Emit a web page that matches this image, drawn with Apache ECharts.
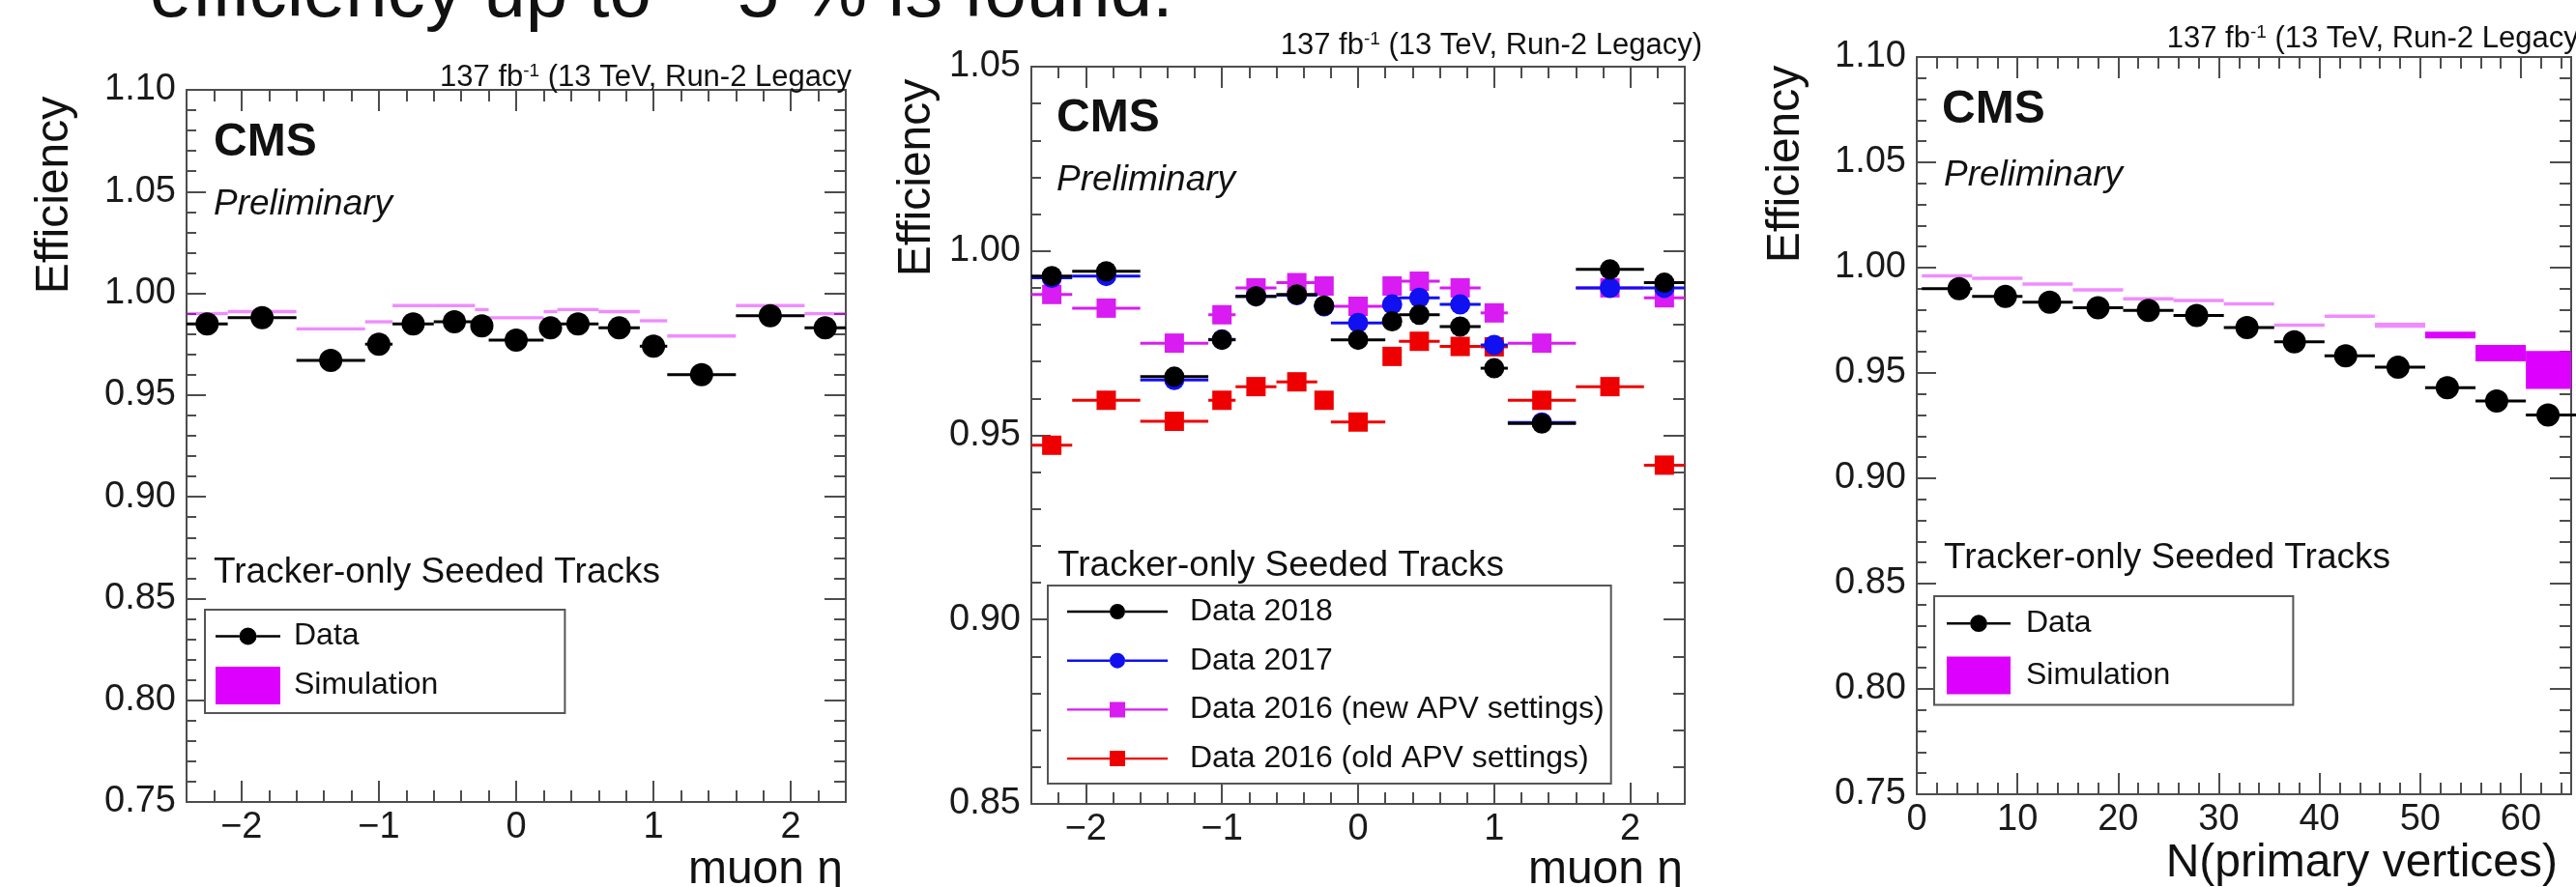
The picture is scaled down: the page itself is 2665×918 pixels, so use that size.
<!DOCTYPE html>
<html><head><meta charset="utf-8">
<script src="https://cdn.jsdelivr.net/npm/echarts@6/dist/echarts.min.js"></script>
<style>html,body{margin:0;padding:0;background:#fff}#c{width:2665px;height:918px}</style>
</head><body><div id="c"></div>
<script>
// ---------------- data ----------------
const etaEdges  = [-2.4,-2.1,-1.6,-1.1,-0.9,-0.6,-0.3,-0.2,0.2,0.3,0.6,0.9,1.1,1.6,2.1,2.4];
const etaPoints = [-2.25,-1.85,-1.35,-1.0,-0.75,-0.45,-0.25,0.0,0.25,0.45,0.75,1.0,1.35,1.85,2.25];

const p1Data   = [0.985,0.988,0.967,0.975,0.985,0.986,0.984,0.977,0.983,0.985,0.983,0.974,0.960,0.989,0.983];
const p1Sim    = [0.990,0.991,0.9825,0.986,0.994,0.994,0.992,0.988,0.991,0.992,0.991,0.9865,0.979,0.994,0.990];
const p1SimErr = [0.0008,0.0008,0.0008,0.0008,0.0008,0.0008,0.0008,0.0008,0.0008,0.0008,0.0008,0.0008,0.0008,0.0008,0.0008];

const p2Data2018    = [0.9932,0.9945,0.9659,0.9759,0.9877,0.9882,0.9852,0.9759,0.9809,0.9827,0.9795,0.9682,0.9532,0.9950,0.9914];
const p2Data2017    = [0.9927,0.9932,0.9650,0.9760,0.9877,0.9880,0.9850,0.9805,0.9855,0.9873,0.9855,0.9745,0.9535,0.9900,0.9900];
const p2Data2016new = [0.9882,0.9845,0.9750,0.9827,0.9900,0.9914,0.9905,0.9850,0.9905,0.9918,0.9900,0.9832,0.9750,0.9900,0.9873];
const p2Data2016old = [0.9473,0.9595,0.9538,0.9595,0.9632,0.9645,0.9595,0.9536,0.9714,0.9755,0.9741,0.9740,0.9595,0.9632,0.9419];

const nvEdges  = [0.5,5.5,10.5,15.5,20.5,25.5,30.5,35.5,40.5,45.5,50.5,55.5,60.5,65.5];
const nvPoints = [4.2,8.8,13.2,18.0,23.0,27.8,32.8,37.5,42.6,47.8,52.7,57.6,62.7];
const p3Data   = [0.9900,0.9863,0.9836,0.9810,0.9797,0.9773,0.9716,0.9648,0.9581,0.9527,0.9430,0.9367,0.9300];
const p3Sim    = [0.9961,0.9950,0.9922,0.9895,0.9852,0.9844,0.9828,0.9727,0.9769,0.9727,0.9680,0.9594,0.9514];
const p3SimErr = [0.0008,0.0008,0.0008,0.0008,0.0008,0.0008,0.0008,0.0008,0.0008,0.0012,0.0016,0.0039,0.0090];

const etaTicks = [-2,-1,0,1,2];
const nvTicks  = [0,10,20,30,40,50,60];
const effTicksA = [0.75,0.80,0.85,0.90,0.95,1.00,1.05,1.10];
const effTicksB = [0.85,0.90,0.95,1.00,1.05];

// ---------------- helpers ----------------
const FONT = "'Liberation Sans', Arial, Helvetica, sans-serif";
const FRAME = '#4d4d4d';
const SIM = '#dd00ff', SIM_THIN = 'rgba(221,0,255,0.45)';
function steps(a, b, s) { const out = []; for (let v = a; v <= b + 1e-9; v += s) out.push(Math.round(v * 1000) / 1000); return out; }
function minorOf(a, b, s, majors) { return steps(a, b, s).filter(v => !majors.some(m => Math.abs(m - v) < 1e-6)); }
const fmtEta = v => (v < 0 ? '\u2212' + Math.abs(v) : String(v));

const grids = [
  {left:193, top:93, width:682, height:737},
  {left:1067, top:69, width:676, height:763},
  {left:1983, top:59, width:677, height:763}
];

const xAxes = [], yAxes = [];
function addAxes(gi, xr, xMaj, xMin, xFmt, yr, yMaj, yMin) {
  const ls = {color: FRAME, width: 2};
  const bx = {type:'value', gridIndex:gi, min:xr[0], max:xr[1], splitLine:{show:false}};
  xAxes.push(
    Object.assign({}, bx, {position:'bottom', axisLine:{show:true, onZero:false, lineStyle:ls},
      axisTick:{show:true, inside:true, length:22, customValues:xMaj, lineStyle:ls},
      axisLabel:{show:true, customValues:xMaj, formatter:xFmt, margin:8, fontSize:38, color:'#1a1a1a', fontFamily:FONT}}),
    Object.assign({}, bx, {position:'bottom', axisLine:{show:false, onZero:false},
      axisTick:{show:true, inside:true, length:12, customValues:xMin, lineStyle:ls}, axisLabel:{show:false}}),
    Object.assign({}, bx, {position:'top', axisLine:{show:true, onZero:false, lineStyle:ls},
      axisTick:{show:true, inside:true, length:22, customValues:xMaj, lineStyle:ls}, axisLabel:{show:false}}),
    Object.assign({}, bx, {position:'top', axisLine:{show:false, onZero:false},
      axisTick:{show:true, inside:true, length:12, customValues:xMin, lineStyle:ls}, axisLabel:{show:false}})
  );
  const by = {type:'value', gridIndex:gi, min:yr[0], max:yr[1], splitLine:{show:false}};
  yAxes.push(
    Object.assign({}, by, {position:'left', axisLine:{show:true, onZero:false, lineStyle:ls},
      axisTick:{show:true, inside:true, length:20, customValues:yMaj, lineStyle:ls},
      axisLabel:{show:true, customValues:yMaj, formatter:v => v.toFixed(2), margin:11, fontSize:38, color:'#1a1a1a', fontFamily:FONT}}),
    Object.assign({}, by, {position:'left', axisLine:{show:false, onZero:false},
      axisTick:{show:true, inside:true, length:10, customValues:yMin, lineStyle:ls}, axisLabel:{show:false}}),
    Object.assign({}, by, {position:'right', axisLine:{show:true, onZero:false, lineStyle:ls},
      axisTick:{show:true, inside:true, length:22, customValues:yMaj, lineStyle:ls}, axisLabel:{show:false}}),
    Object.assign({}, by, {position:'right', axisLine:{show:false, onZero:false},
      axisTick:{show:true, inside:true, length:12, customValues:yMin, lineStyle:ls}, axisLabel:{show:false}})
  );
}
addAxes(0, [-2.4, 2.4], etaTicks, minorOf(-2.4, 2.4, 0.2, etaTicks), fmtEta, [0.75, 1.10], effTicksA, minorOf(0.75, 1.10, 0.01, effTicksA));
addAxes(1, [-2.4, 2.4], etaTicks, minorOf(-2.4, 2.4, 0.2, etaTicks), fmtEta, [0.85, 1.05], effTicksB, minorOf(0.85, 1.05, 0.01, effTicksB));
addAxes(2, [0, 65], nvTicks, minorOf(0, 64, 2, nvTicks), v => String(v), [0.75, 1.10], effTicksA, minorOf(0.75, 1.10, 0.01, effTicksA));

function simSeries(gi, name, edges, vals, errs) {
  return {
    type:'custom', name, xAxisIndex:gi*4, yAxisIndex:gi*4, clip:true, z:2,
    itemStyle:{color:SIM},
    encode:{x:[0,1], y:2},
    data: vals.map((v, i) => [edges[i], edges[i+1], v, errs[i]]),
    renderItem(params, api) {
      const lo = api.value(0), hi = api.value(1), v = api.value(2), e = api.value(3);
      const a = api.coord([lo, v + e]), b = api.coord([hi, v - e]);
      let h = b[1] - a[1]; const cy = (a[1] + b[1]) / 2; if (h < 3) h = 3;
      return {type:'rect', shape:{x:a[0], y:cy - h/2, width:b[0] - a[0], height:h},
              style:{fill: h < 6 ? SIM_THIN : SIM}};
    }
  };
}
function dataSeries(gi, name, color, marker, size, pts, edges, vals, z) {
  return {
    type:'custom', name, xAxisIndex:gi*4, yAxisIndex:gi*4, clip:false, z:z,
    itemStyle:{color},
    encode:{x:[0,1,2], y:3},
    data: vals.map((v, i) => [pts[i], edges[i], edges[i+1], v]),
    renderItem(params, api) {
      const x = api.value(0), lo = api.value(1), hi = api.value(2), y = api.value(3);
      const c = api.coord([x, y]), a = api.coord([lo, y]), b = api.coord([hi, y]);
      const mk = marker === 'circle'
        ? {type:'circle', shape:{cx:c[0], cy:c[1], r:size/2}, style:{fill:color}}
        : {type:'rect', shape:{x:c[0]-size/2, y:c[1]-size/2, width:size, height:size}, style:{fill:color}};
      return {type:'group', children:[
        {type:'line', shape:{x1:a[0], y1:a[1], x2:b[0], y2:b[1]}, style:{stroke:color, lineWidth:3}},
        mk
      ]};
    }
  };
}

const series = [
  simSeries(0, 'Simulation', etaEdges, p1Sim, p1SimErr),
  dataSeries(0, 'Data', '#000000', 'circle', 24, etaPoints, etaEdges, p1Data, 5),
  dataSeries(1, 'Data 2016 (old APV settings)', '#ee0000', 'square', 20, etaPoints, etaEdges, p2Data2016old, 3),
  dataSeries(1, 'Data 2016 (new APV settings)', '#d81cf2', 'square', 20, etaPoints, etaEdges, p2Data2016new, 4),
  dataSeries(1, 'Data 2017', '#1010f0', 'circle', 21, etaPoints, etaEdges, p2Data2017, 5),
  dataSeries(1, 'Data 2018', '#000000', 'circle', 21, etaPoints, etaEdges, p2Data2018, 6),
  simSeries(2, 'Simulation', nvEdges, p3Sim, p3SimErr),
  dataSeries(2, 'Data', '#000000', 'circle', 24, nvPoints, nvEdges, p3Data, 5)
];

// legend icons (line through marker)
const iconDataBig = 'path://M0,0 M67,39 M0,18.2 L24.5,18.2 L24.5,20.8 L0,20.8 Z M42.5,18.2 L67,18.2 L67,20.8 L42.5,20.8 Z M24.5,19.5 A9,9 0 1,1 42.5,19.5 A9,9 0 1,1 24.5,19.5 Z';
const iconCircle = 'path://M0,0 M104,20 M0,8.8 L44,8.8 L44,11.2 L0,11.2 Z M60,8.8 L104,8.8 L104,11.2 L60,11.2 Z M44,10 A8,8 0 1,1 60,10 A8,8 0 1,1 44,10 Z';
const iconSquare = 'path://M0,0 M104,20 M0,8.8 L44,8.8 L44,11.2 L0,11.2 Z M60,8.8 L104,8.8 L104,11.2 L60,11.2 Z M44,2 L60,2 L60,18 L44,18 Z';

const legTxt = {fontSize:32, color:'#111', fontFamily:FONT, lineHeight:36};
const legends = [
  {left:212, top:631, orient:'vertical', selectedMode:false, itemWidth:67, itemHeight:39, itemGap:12,
   padding:[8,131,9,11], borderColor:'#555', borderWidth:2, backgroundColor:'#fff',
   textStyle:Object.assign({padding:[0,0,0,9]}, legTxt),
   data:[{name:'Data', icon:iconDataBig}, {name:'Simulation', icon:'rect'}]},
  {left:1084, top:606, orient:'vertical', selectedMode:false, itemWidth:104, itemHeight:20, itemGap:14.7,
   padding:[9,7,8,20], borderColor:'#555', borderWidth:2, backgroundColor:'#fff',
   textStyle:Object.assign({padding:[0,0,0,18]}, legTxt),
   data:[{name:'Data 2018', icon:iconCircle}, {name:'Data 2017', icon:iconCircle},
         {name:'Data 2016 (new APV settings)', icon:iconSquare}, {name:'Data 2016 (old APV settings)', icon:iconSquare}]},
  {left:2001, top:617, orient:'vertical', selectedMode:false, itemWidth:66, itemHeight:39, itemGap:15,
   padding:[9,127,11,13], borderColor:'#555', borderWidth:2, backgroundColor:'#fff',
   textStyle:Object.assign({padding:[0,0,0,11]}, legTxt),
   data:[{name:'Data', icon:iconDataBig}, {name:'Simulation', icon:'rect'}]}
];

// ---------------- text ----------------
function T(x, y, text, o) {
  o = o || {};
  return {type:'text', x, y, rotation:o.rot || 0, z:10, silent:true,
    style:Object.assign({text, fontSize:o.size || 32, fontFamily:FONT, fill:o.color || '#111',
      fontWeight:o.weight || 'normal', fontStyle:o.italic ? 'italic' : 'normal',
      align:o.align || 'left', verticalAlign:o.va || 'middle'}, o.rich ? {rich:o.rich} : {})};
}
const supRich = {sup:{fontSize:19, fontFamily:FONT, fill:'#111', verticalAlign:'top', padding:[0,0,10,0]}};
const graphics = [
  T(155, 34, 'efficiency up to ~ 5 % is found.', {size:78, va:'bottom', color:'#111'}),
  // panel 1
  T(881, 80, '137 fb{sup|-1} (13 TeV, Run-2 Legacy', {size:31, align:'right', rich:supRich}),
  T(57, 202, 'Efficiency', {size:48, align:'center', rot:Math.PI/2}),
  T(221, 148, 'CMS', {size:48, weight:'bold'}),
  T(221, 212, 'Preliminary', {size:37, italic:true}),
  T(221, 593, 'Tracker-only Seeded Tracks', {size:37}),
  T(872, 901, 'muon \u03B7', {size:48, align:'right'}),
  // panel 2
  T(1761, 47, '137 fb{sup|-1} (13 TeV, Run-2 Legacy)', {size:31, align:'right', rich:supRich}),
  T(949, 184, 'Efficiency', {size:48, align:'center', rot:Math.PI/2}),
  T(1093, 123, 'CMS', {size:48, weight:'bold'}),
  T(1093, 187, 'Preliminary', {size:37, italic:true}),
  T(1094, 586, 'Tracker-only Seeded Tracks', {size:37}),
  T(1741, 901, 'muon \u03B7', {size:48, align:'right'}),
  // panel 3
  T(2678, 40, '137 fb{sup|-1} (13 TeV, Run-2 Legacy)', {size:31, align:'right', rich:supRich}),
  T(1848, 170, 'Efficiency', {size:48, align:'center', rot:Math.PI/2}),
  T(2009, 114, 'CMS', {size:48, weight:'bold'}),
  T(2011, 182, 'Preliminary', {size:37, italic:true}),
  T(2011, 578, 'Tracker-only Seeded Tracks', {size:37}),
  T(2646, 894, 'N(primary vertices)', {size:48, align:'right'})
];

const chart = echarts.init(document.getElementById('c'), null, {renderer:'canvas', width:2665, height:918});
chart.setOption({
  animation:false,
  backgroundColor:'#ffffff',
  grid:grids.map(g => Object.assign({containLabel:false, outerBoundsMode:'none'}, g)),
  xAxis:xAxes,
  yAxis:yAxes,
  legend:legends,
  series,
  graphic:graphics
});
</script>
</body></html>
